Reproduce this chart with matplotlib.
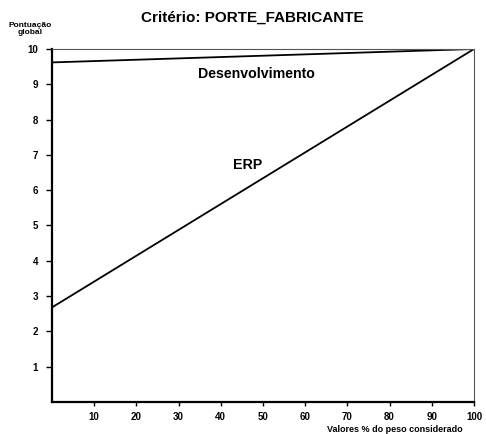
import matplotlib
matplotlib.use("Agg")
import matplotlib.pyplot as plt

plt.rcParams['font.family'] = ['Liberation Sans', 'DejaVu Sans']

x_vals = [0, 100]
desenvolvimento = [9.62, 10.0]
erp = [2.68, 10.0]
x_ticks = [10, 20, 30, 40, 50, 60, 70, 80, 90, 100]
y_ticks = [1, 2, 3, 4, 5, 6, 7, 8, 9, 10]

fig = plt.figure(figsize=(4.86, 4.34), dpi=100)
ax = fig.add_axes([52/486, 32/434, 422/486, 353/434])
ax.plot(x_vals, desenvolvimento, color='black', lw=1.3)
ax.plot(x_vals, erp, color='black', lw=1.3)
ax.set_xlim(0, 100)
ax.set_ylim(0, 10)
ax.set_xticks(x_ticks)
ax.set_yticks(y_ticks)
ax.set_xticklabels([str(v) for v in x_ticks], fontsize=7, fontweight='bold')
ax.set_yticklabels([str(v) for v in y_ticks], fontsize=7, fontweight='bold')
ax.tick_params(axis='y', direction='out', length=4, width=1, pad=6)
ax.tick_params(axis='x', direction='out', length=3, width=1, pad=4)
for s in ['left', 'bottom']:
    ax.spines[s].set_linewidth(1.6)
for s in ['top', 'right']:
    ax.spines[s].set_linewidth(0.8)
    ax.spines[s].set_color('#555555')

ax.text(48.4, 9.29, 'Desenvolvimento', fontsize=10.2, fontweight='bold', ha='center', va='center')
ax.text(46.4, 6.71, 'ERP', fontsize=10.2, fontweight='bold', ha='center', va='center')

fig.text(252/486, 1 - 18/434, 'Critério: PORTE_FABRICANTE', fontsize=11, fontweight='bold',
         ha='center', va='center')
fig.text(30/486, 1 - 29/434, 'Pontuação\nglobal', fontsize=6, fontweight='bold',
         ha='center', va='center', linespacing=1.05)
fig.text(463/486, 1 - 430/434, 'Valores % do peso considerado', fontsize=6.5, fontweight='bold',
         ha='right', va='center')

fig.savefig('out.png', dpi=100)
